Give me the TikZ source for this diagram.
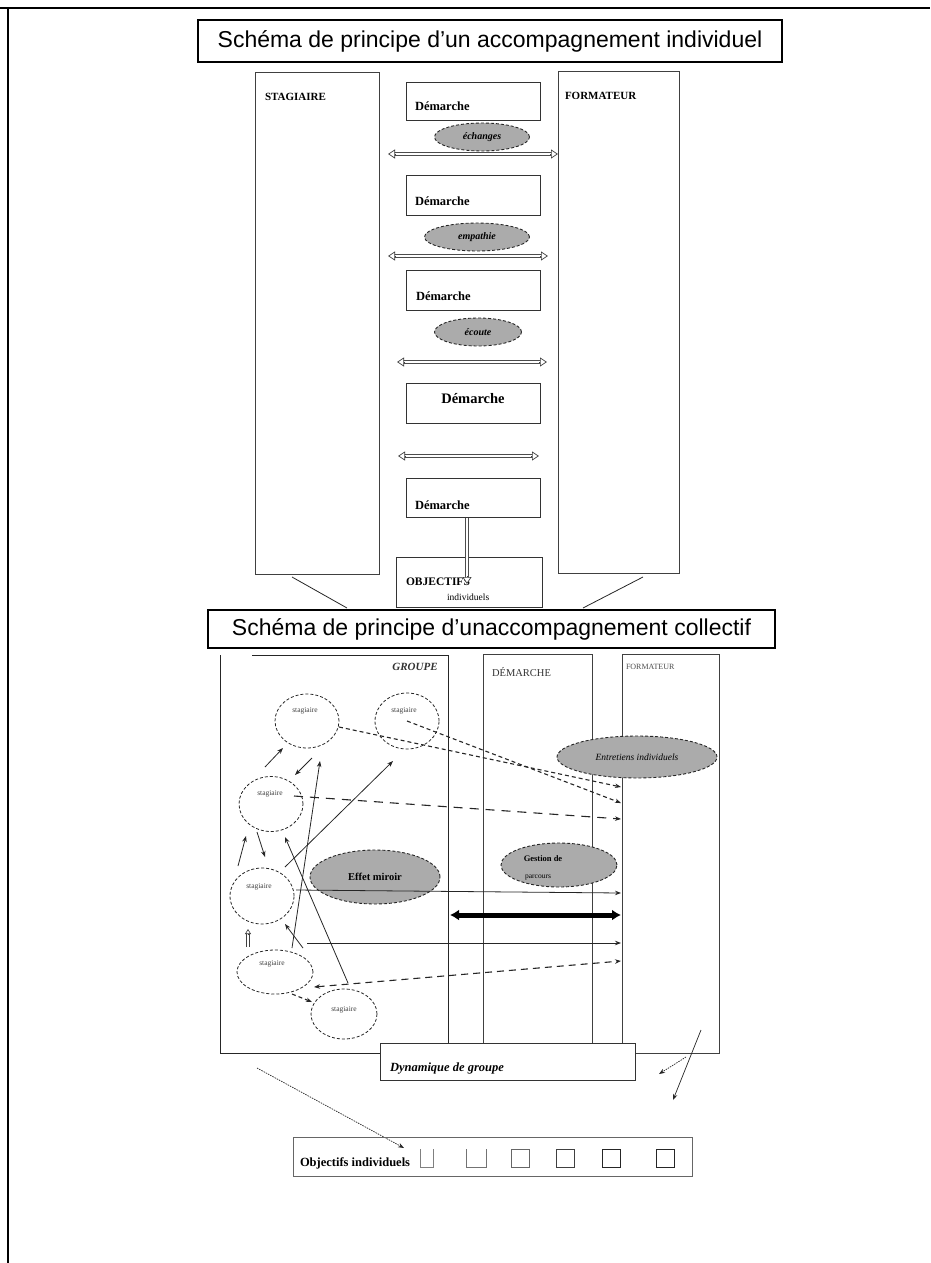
\documentclass[tikz,border=0pt]{standalone}
\usepackage{fontspec}
\setmainfont{Liberation Serif}
\newfontfamily\sansf{Liberation Sans}
\usetikzlibrary{shapes.geometric,arrows.meta}
\newcommand\myfs[1]{\fontsize{#1}{#1}\selectfont}
\begin{document}
\begin{tikzpicture}[x=1pt,y=-1pt,
  every node/.style={inner sep=0pt,outer sep=0pt},
  ln/.style={draw=black!85,line width=0.8pt},
  col/.style={draw=black!75,line width=0.9pt,anchor=north west},
  box/.style={draw=black!80,line width=0.9pt,anchor=north west},
  ttl/.style={draw=black,line width=1.3pt,font=\sansf\myfs{23}},
  oval/.style={ellipse,draw=black!85,dash pattern=on 3pt off 2pt,line width=0.9pt,fill=black!33},
  circ/.style={ellipse,draw=black!85,dash pattern=on 3pt off 2pt,line width=0.8pt},
  shaft/.style={draw=black!70,line width=0.7pt,double=white,double distance=2.6pt},
  hh/.style={draw=black!75,line width=0.7pt,-{Triangle[length=7pt,width=9pt,fill=white]}},
  arr/.style={draw=black!85,line width=0.8pt,-{Stealth[length=6pt,width=4.5pt]}},
  darr/.style={arr,dash pattern=on 5pt off 3pt,line width=1.1pt},
  dotarr/.style={arr,dash pattern=on 1.5pt off 1pt,line width=0.7pt},
  dem/.style={font=\bfseries\myfs{12.5},anchor=west},
  stg/.style={font=\myfs{7.5},text=black!75},
  sq/.style={minimum width=18pt,minimum height=18pt}
]
\useasboundingbox (0,0) rectangle (930,1263);
% outer frame
\coordinate (fa1) at (0,8); \coordinate (fa2) at (930,8); \coordinate (fa3) at (8,1263);
\draw[line width=2.6pt] (fa1) -- (fa2);
\draw[line width=1.6pt] (8,8) -- (fa3);

% ===== title 1
\node[ttl,minimum width=584pt,minimum height=42pt] (t1) at (490,41) {Schéma de principe d’un accompagnement individuel};

% ===== top diagram
\node[col,minimum width=124pt,minimum height=502pt] (stag) at (255,72) {};
\node[col,minimum width=121pt,minimum height=502pt] (form) at (558,71) {};
\node[font=\bfseries\myfs{11},anchor=west] (stagl) at (265,97) {STAGIAIRE};
\node[font=\bfseries\myfs{11},anchor=west] (forml) at (565,96) {FORMATEUR};

\node[box,minimum width=134pt,minimum height=38pt] (d1) at (406,82) {};
\node[box,minimum width=134pt,minimum height=40pt] (d2) at (406,175) {};
\node[box,minimum width=134pt,minimum height=40pt] (d3) at (406,270) {};
\node[box,minimum width=134pt,minimum height=40pt] (d4) at (406,383) {};
\node[box,minimum width=134pt,minimum height=39pt] (d5) at (406,478) {};
\node[dem] (d1l) at (415,106) {Démarche};
\node[dem] (d2l) at (415,201) {Démarche};
\node[dem] (d3l) at (416,296) {Démarche};
\node[font=\bfseries\myfs{14.5}] (d4l) at (473,399) {Démarche};
\node[dem] (d5l) at (415,505) {Démarche};

\node[oval,minimum width=95pt,minimum height=28pt,font=\bfseries\itshape\myfs{10}] (e1) at (482,137) {échanges};
\node[oval,minimum width=105pt,minimum height=28pt,font=\bfseries\itshape\myfs{10}] (e2) at (477,237) {empathie};
\node[oval,minimum width=87pt,minimum height=28pt,font=\bfseries\itshape\myfs{10}] (e3) at (478,332) {écoute};

% double hollow arrows
\coordinate (h1a) at (388,154); \coordinate (h1b) at (558,154);
\coordinate (h2a) at (388,256); \coordinate (h2b) at (548,256);
\coordinate (h3a) at (397,362); \coordinate (h3b) at (547,362);
\coordinate (h4a) at (398,456); \coordinate (h4b) at (539,456);
\foreach \a/\b in {h1a/h1b,h2a/h2b,h3a/h3b,h4a/h4b}{
  \draw[shaft] ([xshift=6pt]\a) -- ([xshift=-6pt]\b);
  \draw[hh] ([xshift=8pt]\a) -- (\a);
  \draw[hh] ([xshift=-8pt]\b) -- (\b);
}

\node[box,minimum width=146pt,minimum height=50pt] (obj) at (396,557) {};
\node[font=\bfseries\myfs{11.5},anchor=west] (objl) at (406,582) {OBJECTIFS};
\node[font=\myfs{9.5},anchor=west] (objl2) at (447,597) {individuels};
\coordinate (oa) at (467,518); \coordinate (ob) at (467,584);
\draw[shaft] (oa) -- ([yshift=6pt]ob);
\draw[hh] ([yshift=8pt]ob) -- (ob);

\coordinate (sl1) at (292,577); \coordinate (sl2) at (347,608);
\coordinate (fr1) at (643,577); \coordinate (fr2) at (583,608);
\draw[ln] (sl1) -- (sl2);
\draw[ln] (fr1) -- (fr2);

% ===== title 2
\node[ttl,minimum width=567pt,minimum height=38pt] (t2) at (491.5,629) {Schéma de principe d’unaccompagnement collectif};

% ===== bottom diagram frame
\draw[ln] (252,655) -- (448,655) -- (448,1043);
\draw[ln] (220,655) -- (220,1053) -- (718,1053);
\node[col,minimum width=109pt,minimum height=389pt] (dcol) at (483,654) {};
\node[col,minimum width=97pt,minimum height=399pt] (fcol) at (622,654) {};
\node[font=\bfseries\itshape\myfs{11},text=black!80] (grl) at (415,667) {GROUPE};
\node[font=\myfs{10.5},text=black!80,anchor=west] (dml) at (492,672) {DÉMARCHE};
\node[font=\myfs{8},text=black!70,anchor=west] (fml) at (626,667) {FORMATEUR};

% stagiaire circles
\node[circ,minimum width=64pt,minimum height=54pt] (c1) at (307,721) {};
\node[circ,minimum width=64pt,minimum height=56pt] (c2) at (407,721) {};
\node[circ,minimum width=64pt,minimum height=55pt] (c3) at (271,804) {};
\node[circ,minimum width=64pt,minimum height=56pt] (c4) at (262,896) {};
\node[circ,minimum width=76pt,minimum height=44pt] (c5) at (275,972) {};
\node[circ,minimum width=66pt,minimum height=50pt] (c6) at (344,1014) {};
\node[stg] (c1l) at (305,711) {stagiaire};
\node[stg] (c2l) at (404,711) {stagiaire};
\node[stg] (c3l) at (270,794) {stagiaire};
\node[stg] (c4l) at (259,887) {stagiaire};
\node[stg] (c5l) at (272,964) {stagiaire};
\node[stg] (c6l) at (344,1010) {stagiaire};

% gray ellipses
\node[oval,minimum width=160pt,minimum height=42pt,font=\itshape\myfs{9.5}] (ent) at (637,757) {Entretiens individuels};
\node[oval,minimum width=130pt,minimum height=54pt,font=\bfseries\myfs{10.5}] (mir) at (375,877) {Effet miroir};
\node[oval,minimum width=116pt,minimum height=44pt] (ges) at (559,865) {};
\node[font=\bfseries\myfs{8.5}] (gesl1) at (543,859) {Gestion de};
\node[font=\myfs{7.5}] (gesl2) at (538,878) {parcours};

% formateur end points
\coordinate (fa) at (621,787);
\coordinate (fb) at (621,803);
\coordinate (fc) at (621,819);
\coordinate (fd) at (621,893);
\coordinate (fe) at (621,915);
\coordinate (ff) at (621,943);
\coordinate (fg) at (621,961);

\coordinate (s1) at (339,727);
\coordinate (s3) at (294,796);
\coordinate (s4) at (296,890);
\coordinate (s5) at (450,915);
\coordinate (s6) at (307,943);
\coordinate (s7) at (314,987);

\draw[darr,dash pattern=on 4pt off 3pt] (s1) -- (fa);
\draw[darr,dash pattern=on 4pt off 3pt] (c2.center) -- (fb);
\draw[darr,dash pattern=on 9pt off 7pt] (s3) -- (fc);
\draw[arr] (s4) -- (fd);
\draw[line width=5pt,draw=black,{Latex[length=9pt,width=11pt]}-{Latex[length=9pt,width=11pt]}] (s5) -- (fe);
\draw[arr] (s6) -- (ff);
\draw[darr,{Stealth[length=6pt,width=4.5pt]}-{Stealth[length=6pt,width=4.5pt]},dash pattern=on 7pt off 5pt] (s7) -- (fg);

% small arrows between stagiaires
\coordinate (a1s) at (265,767); \coordinate (a1e) at (283,748);
\coordinate (a2s) at (312,758); \coordinate (a2e) at (295,775);
\coordinate (a3s) at (238,866); \coordinate (a3e) at (246,836);
\coordinate (a4s) at (257,832); \coordinate (a4e) at (265,857);
\coordinate (a5s) at (248,947); \coordinate (a5e) at (248,929);
\coordinate (a6s) at (303,948); \coordinate (a6e) at (285,924);
\coordinate (a7s) at (348,983); \coordinate (a7e) at (285,837);
\coordinate (a8s) at (285,867); \coordinate (a8e) at (393,761);
\coordinate (a9s) at (292,948); \coordinate (a9e) at (320,761);
\coordinate (a10s) at (292,994); \coordinate (a10e) at (312,1002);
\draw[arr] (a1s) -- (a1e);
\draw[arr] (a2s) -- (a2e);
\draw[arr] (a3s) -- (a3e);
\draw[arr] (a4s) -- (a4e);
\draw[draw=black!75,line width=0.6pt,double=white,double distance=2pt] (a5s) -- ([yshift=-4pt]a5e);
\draw[draw=black!75,line width=0.6pt,-{Triangle[length=5pt,width=6pt,fill=white]}] ([yshift=-6pt]a5e) -- (a5e);
\draw[arr] (a6s) -- (a6e);
\draw[arr] (a7s) -- (a7e);
\draw[arr] (a8s) -- (a8e);
\draw[arr] (a9s) -- (a9e);
\draw[darr,dash pattern=on 4pt off 3pt] (a10s) -- (a10e);

% dynamique de groupe
\node[box,fill=white,minimum width=255pt,minimum height=37pt] (dyn) at (380,1043) {};
\node[font=\bfseries\itshape\myfs{12.5},anchor=west] (dynl) at (390,1068) {Dynamique de groupe};

\coordinate (b1s) at (701,1030); \coordinate (b1e) at (673,1100);
\coordinate (b2s) at (686,1057); \coordinate (b2e) at (659,1074);
\coordinate (b3s) at (257,1068); \coordinate (b3e) at (404,1148);
\draw[arr,line width=0.7pt] (b1s) -- (b1e);
\draw[dotarr] (b2s) -- (b2e);
\draw[dotarr] (b3s) -- (b3e);

% objectifs individuels
\node[box,draw=black!60,minimum width=399pt,minimum height=39pt] (oi) at (293,1137) {};
\node[font=\bfseries\myfs{12.5},anchor=west] (oil) at (300,1163) {Objectifs individuels};
\node[sq,minimum width=13pt] (q1) at (427,1158) {};
\node[sq,minimum width=20pt] (q2) at (476,1158) {};
\node[sq,draw=black!60,line width=0.7pt] (q3) at (520,1158) {};
\node[sq,draw=black!75,line width=0.9pt] (q4) at (565,1158) {};
\node[sq,draw=black!85,line width=1pt] (q5) at (611,1158) {};
\node[sq,draw=black!85,line width=1pt] (q6) at (665,1158) {};
\draw[draw=black!50,line width=0.7pt] (q1.north west) -- (q1.south west) -- (q1.south east) -- (q1.north east);
\draw[draw=black!55,line width=0.7pt] (q2.north west) -- (q2.south west) -- (q2.south east) -- (q2.north east);
\end{tikzpicture}
\end{document}
